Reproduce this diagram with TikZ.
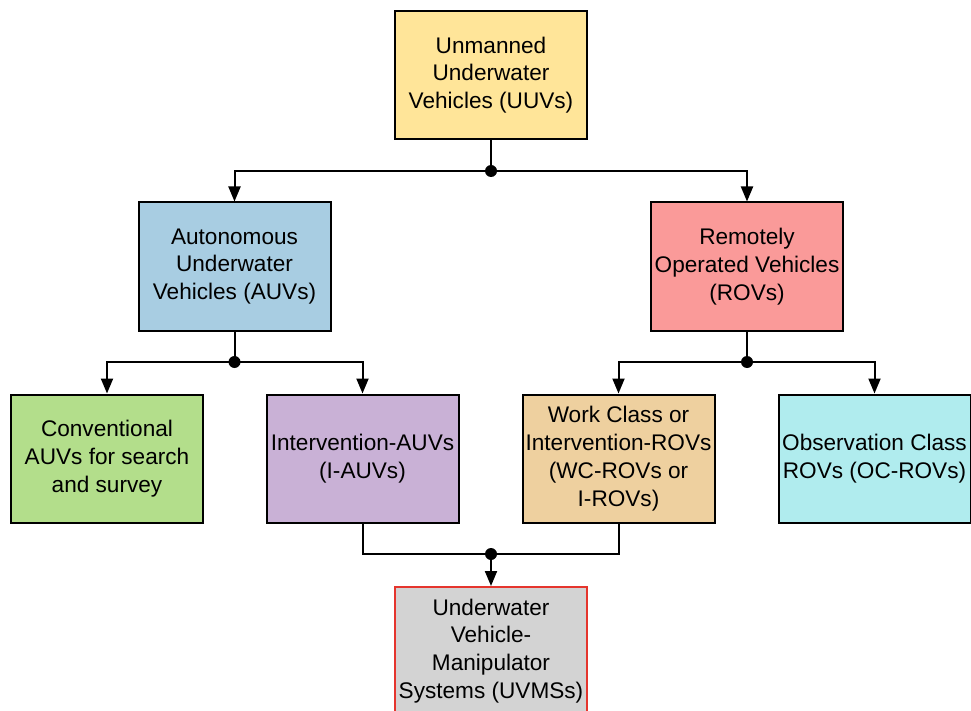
\documentclass[tikz,border=0pt]{standalone}
\usepackage{fontspec}
\setmainfont{Liberation Sans}
\usetikzlibrary{arrows.meta}
\definecolor{cuuv}{HTML}{FFE599}
\definecolor{cauv}{HTML}{A8CDE2}
\definecolor{crov}{HTML}{FA9A99}
\definecolor{cconv}{HTML}{B3DE8B}
\definecolor{ciauv}{HTML}{C9B1D6}
\definecolor{cwc}{HTML}{EED09F}
\definecolor{coc}{HTML}{B0ECEE}
\definecolor{cuvms}{HTML}{D3D3D3}
\definecolor{cred}{HTML}{E5352D}
\begin{document}
\begin{tikzpicture}[x=1pt,y=-1pt,
  box/.style={draw=black,line width=2pt,rectangle,minimum width=192pt,minimum height=128pt,inner sep=0pt,align=center,font=\fontsize{22.6}{27.8}\selectfont},
  dot/.style={circle,fill=black,inner sep=0pt,minimum size=12pt},
  conn/.style={line width=2pt},
  arr/.style={line width=2pt,-{Triangle[width=12pt,length=15pt]}}]
\useasboundingbox (0,0) rectangle (971,711);
\node[box,fill=cuuv] (uuv) at (491,75) {Unmanned\\Underwater\\Vehicles (UUVs)};
\node[box,fill=cauv] (auv) at (234.5,266.5) {Autonomous\\Underwater\\Vehicles (AUVs)};
\node[box,fill=crov] (rov) at (747,266.5) {Remotely\\Operated Vehicles\\(ROVs)};
\node[box,fill=cconv] (conv) at (107,458.5) {Conventional\\AUVs for search\\and survey};
\node[box,fill=ciauv] (iauv) at (362.5,458.5) {Intervention-AUVs\\(I-AUVs)};
\node[box,fill=cwc] (wc) at (618.5,458.5) {Work Class or\\Intervention-ROVs\\(WC-ROVs or\\I-ROVs)};
\node[box,fill=coc] (oc) at (874.5,458.5) {Observation Class\\ROVs (OC-ROVs)};
\node[box,fill=cuvms,draw=cred] (uvms) at (491,651) {Underwater\\Vehicle-\\Manipulator\\Systems (UVMSs)};
\node[dot] (j1) at (491,171) {};
\node[dot] (j2) at (234.5,362) {};
\node[dot] (j3) at (747,362) {};
\node[dot] (j4) at (491,554) {};
\draw[conn] (uuv.south) -- (j1.center);
\draw[arr] (j1.center) -| (auv.north);
\draw[arr] (j1.center) -| (rov.north);
\draw[conn] (auv.south) -- (j2.center);
\draw[arr] (j2.center) -| (conv.north);
\draw[arr] (j2.center) -| (iauv.north);
\draw[conn] (rov.south) -- (j3.center);
\draw[arr] (j3.center) -| (wc.north);
\draw[arr] (j3.center) -| (oc.north);
\draw[conn] (iauv.south) |- (j4.center);
\draw[conn] (wc.south) |- (j4.center);
\draw[arr] (j4.center) -- (uvms.north);
\end{tikzpicture}
\end{document}
